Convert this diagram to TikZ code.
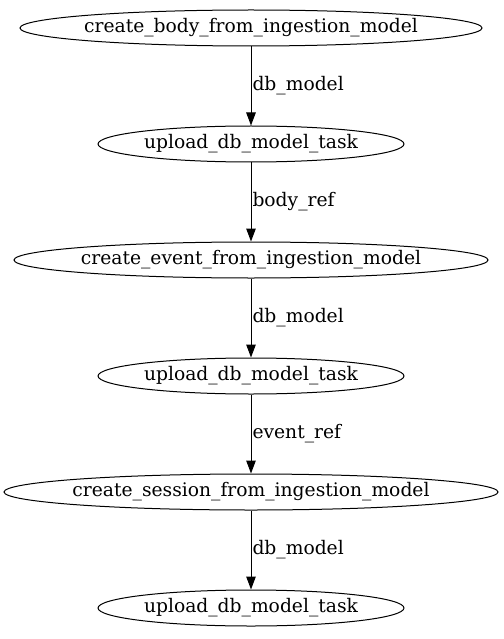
\documentclass[tikz,border=0pt]{standalone}
\usepackage{fontspec}
\setmainfont{DejaVu Serif}
\usetikzlibrary{shapes.geometric,arrows.meta}
\tikzset{
  task/.style={draw, line width=1pt, ellipse, inner xsep=-200pt, inner ysep=-20pt, minimum height=36pt, font=\fontsize{18.7}{22}\selectfont},
  flow/.style={-{Triangle[length=13pt,width=9.5pt]}, line width=1pt},
  ref/.style={midway, anchor=west, inner sep=1pt, font=\fontsize{18.7}{22}\selectfont}
}
\begin{document}
\begin{tikzpicture}[x=1pt, y=1pt]
  \useasboundingbox (0,0) rectangle (503,-639);
  % tasks
  \node[task, minimum width=462pt] (body) at (251,-28) {create\_body\_from\_ingestion\_model};
  \node[task, minimum width=306pt] (uploadA) at (251,-144) {upload\_db\_model\_task};
  \node[task, minimum width=474pt] (event) at (251,-260) {create\_event\_from\_ingestion\_model};
  \node[task, minimum width=306pt] (uploadB) at (251,-376) {upload\_db\_model\_task};
  \node[task, minimum width=494pt] (session) at (251,-492) {create\_session\_from\_ingestion\_model};
  \node[task, minimum width=306pt] (uploadC) at (251,-608) {upload\_db\_model\_task};
  % edges
  \draw[flow] (body) -- (uploadA) node[ref] {db\_model};
  \draw[flow] (uploadA) -- (event) node[ref] {body\_ref};
  \draw[flow] (event) -- (uploadB) node[ref] {db\_model};
  \draw[flow] (uploadB) -- (session) node[ref] {event\_ref};
  \draw[flow] (session) -- (uploadC) node[ref] {db\_model};
\end{tikzpicture}
\end{document}
